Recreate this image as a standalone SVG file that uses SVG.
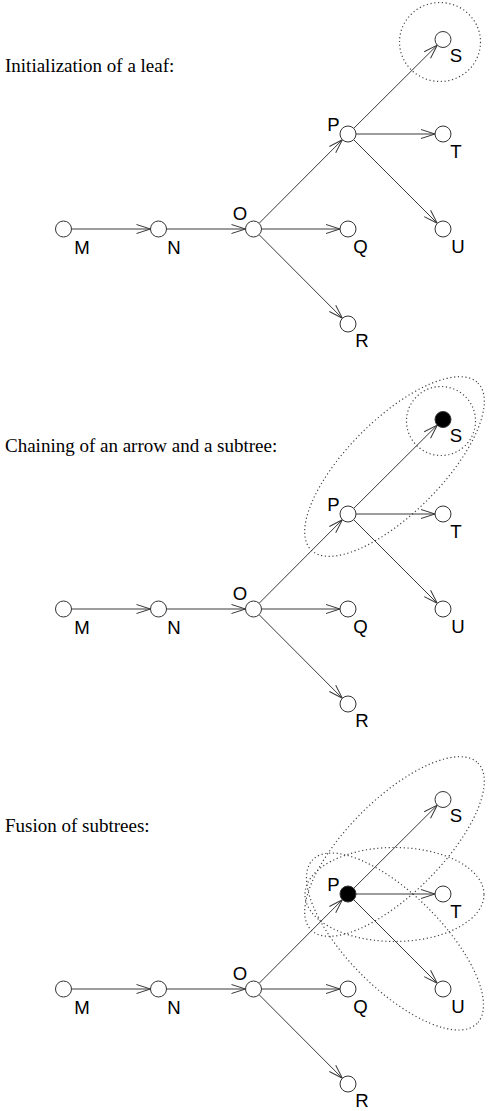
<svg xmlns="http://www.w3.org/2000/svg" width="490" height="1111" viewBox="0 0 490 1111">
<style>
.title{font-family:"Liberation Serif","Times New Roman",serif;font-size:19px;fill:#000}
.lbl{font-family:"Liberation Sans",Arial,sans-serif;font-size:18.6px;fill:#000;text-anchor:middle}
.nd{fill:#fff;stroke:#333;stroke-width:1}
.nd.on{fill:#000}
.e{stroke:#3a3a3a;stroke-width:1;fill:none;marker-end:url(#arr)}
.dot{fill:none;stroke:#444;stroke-width:1.2;stroke-dasharray:1.2 2.6}
</style>
<defs>
<marker id="arr" markerUnits="userSpaceOnUse" viewBox="0 0 15 10" markerWidth="15" markerHeight="10" refX="14.5" refY="5" orient="auto" overflow="visible">
<path d="M0.5,0.5 L14.5,5 L0.5,9.5" fill="none" stroke="#3a3a3a" stroke-width="1"/>
</marker>
</defs>

<!-- Section 1 -->
<g id="section1">
<text class="title" x="5" y="71.7">Initialization of a leaf:</text>
<g id="s1-groups"><ellipse class="dot" cx="440" cy="42" rx="40.5" ry="39.5"/></g>
<g id="s1-edges">
<line class="e" x1="71.5" y1="229" x2="150.5" y2="229"/>
<line class="e" x1="166.5" y1="229" x2="245.5" y2="229"/>
<line class="e" x1="261.5" y1="229" x2="340" y2="229"/>
<line class="e" x1="259.1" y1="223.3" x2="342.4" y2="139.7"/>
<line class="e" x1="259.1" y1="234.7" x2="342.4" y2="318.3"/>
<line class="e" x1="353.7" y1="128.4" x2="437.3" y2="45.1"/>
<line class="e" x1="356" y1="134" x2="435" y2="134"/>
<line class="e" x1="353.7" y1="139.7" x2="437.3" y2="223.3"/>
</g>
<g id="s1-M"><circle class="nd" cx="63.5" cy="229" r="8"/><text class="lbl" x="82" y="254">M</text></g>
<g id="s1-N"><circle class="nd" cx="158.5" cy="229" r="8"/><text class="lbl" x="174" y="254">N</text></g>
<g id="s1-O"><circle class="nd" cx="253.5" cy="229" r="8"/><text class="lbl" x="240" y="220">O</text></g>
<g id="s1-P"><circle class="nd" cx="348" cy="134" r="8"/><text class="lbl" x="333.5" y="131">P</text></g>
<g id="s1-Q"><circle class="nd" cx="348" cy="229" r="8"/><text class="lbl" x="360.5" y="252.5">Q</text></g>
<g id="s1-R"><circle class="nd" cx="348" cy="324" r="8"/><text class="lbl" x="362" y="347">R</text></g>
<g id="s1-S"><circle class="nd" cx="443" cy="39.5" r="8"/><text class="lbl" x="456" y="61.5">S</text></g>
<g id="s1-T"><circle class="nd" cx="443" cy="134" r="8"/><text class="lbl" x="456" y="157.5">T</text></g>
<g id="s1-U"><circle class="nd" cx="443" cy="229" r="8"/><text class="lbl" x="458" y="253">U</text></g>
</g>

<!-- Section 2 -->
<g id="section2" transform="translate(0,380)">
<text class="title" x="5" y="71.7">Chaining of an arrow and a subtree:</text>
<g id="s2-groups">
<ellipse class="dot" cx="441" cy="41" rx="34.5" ry="34.5"/>
<ellipse class="dot" cx="0" cy="0" rx="118" ry="47" transform="translate(394.5,86.5) rotate(-45)"/>
</g>
<g id="s2-edges">
<line class="e" x1="71.5" y1="229" x2="150.5" y2="229"/>
<line class="e" x1="166.5" y1="229" x2="245.5" y2="229"/>
<line class="e" x1="261.5" y1="229" x2="340" y2="229"/>
<line class="e" x1="259.1" y1="223.3" x2="342.4" y2="139.7"/>
<line class="e" x1="259.1" y1="234.7" x2="342.4" y2="318.3"/>
<line class="e" x1="353.7" y1="128.4" x2="437.3" y2="45.1"/>
<line class="e" x1="356" y1="134" x2="435" y2="134"/>
<line class="e" x1="353.7" y1="139.7" x2="437.3" y2="223.3"/>
</g>
<g id="s2-M"><circle class="nd" cx="63.5" cy="229" r="8"/><text class="lbl" x="82" y="254">M</text></g>
<g id="s2-N"><circle class="nd" cx="158.5" cy="229" r="8"/><text class="lbl" x="174" y="254">N</text></g>
<g id="s2-O"><circle class="nd" cx="253.5" cy="229" r="8"/><text class="lbl" x="240" y="220">O</text></g>
<g id="s2-P"><circle class="nd" cx="348" cy="134" r="8"/><text class="lbl" x="333.5" y="131">P</text></g>
<g id="s2-Q"><circle class="nd" cx="348" cy="229" r="8"/><text class="lbl" x="360.5" y="252.5">Q</text></g>
<g id="s2-R"><circle class="nd" cx="348" cy="324" r="8"/><text class="lbl" x="362" y="347">R</text></g>
<g id="s2-S"><circle class="nd on" cx="443" cy="39.5" r="8"/><text class="lbl" x="456" y="61.5">S</text></g>
<g id="s2-T"><circle class="nd" cx="443" cy="134" r="8"/><text class="lbl" x="456" y="157.5">T</text></g>
<g id="s2-U"><circle class="nd" cx="443" cy="229" r="8"/><text class="lbl" x="458" y="253">U</text></g>
</g>

<!-- Section 3 -->
<g id="section3" transform="translate(0,760)">
<text class="title" x="5" y="71.7">Fusion of subtrees:</text>
<g id="s3-groups">
<ellipse class="dot" cx="0" cy="0" rx="118" ry="47" transform="translate(394.5,86.5) rotate(-45)"/>
<ellipse class="dot" cx="394.5" cy="134.5" rx="89.5" ry="47"/>
<ellipse class="dot" cx="0" cy="0" rx="116" ry="47" transform="translate(395,181.5) rotate(45)"/>
</g>
<g id="s3-edges">
<line class="e" x1="71.5" y1="229" x2="150.5" y2="229"/>
<line class="e" x1="166.5" y1="229" x2="245.5" y2="229"/>
<line class="e" x1="261.5" y1="229" x2="340" y2="229"/>
<line class="e" x1="259.1" y1="223.3" x2="342.4" y2="139.7"/>
<line class="e" x1="259.1" y1="234.7" x2="342.4" y2="318.3"/>
<line class="e" x1="353.7" y1="128.4" x2="437.3" y2="45.1"/>
<line class="e" x1="356" y1="134" x2="435" y2="134"/>
<line class="e" x1="353.7" y1="139.7" x2="437.3" y2="223.3"/>
</g>
<g id="s3-M"><circle class="nd" cx="63.5" cy="229" r="8"/><text class="lbl" x="82" y="254">M</text></g>
<g id="s3-N"><circle class="nd" cx="158.5" cy="229" r="8"/><text class="lbl" x="174" y="254">N</text></g>
<g id="s3-O"><circle class="nd" cx="253.5" cy="229" r="8"/><text class="lbl" x="240" y="220">O</text></g>
<g id="s3-P"><circle class="nd on" cx="348" cy="134" r="8"/><text class="lbl" x="333.5" y="131">P</text></g>
<g id="s3-Q"><circle class="nd" cx="348" cy="229" r="8"/><text class="lbl" x="360.5" y="252.5">Q</text></g>
<g id="s3-R"><circle class="nd" cx="348" cy="324" r="8"/><text class="lbl" x="362" y="347">R</text></g>
<g id="s3-S"><circle class="nd" cx="443" cy="39.5" r="8"/><text class="lbl" x="456" y="61.5">S</text></g>
<g id="s3-T"><circle class="nd" cx="443" cy="134" r="8"/><text class="lbl" x="456" y="157.5">T</text></g>
<g id="s3-U"><circle class="nd" cx="443" cy="229" r="8"/><text class="lbl" x="458" y="253">U</text></g>
</g>
</svg>
